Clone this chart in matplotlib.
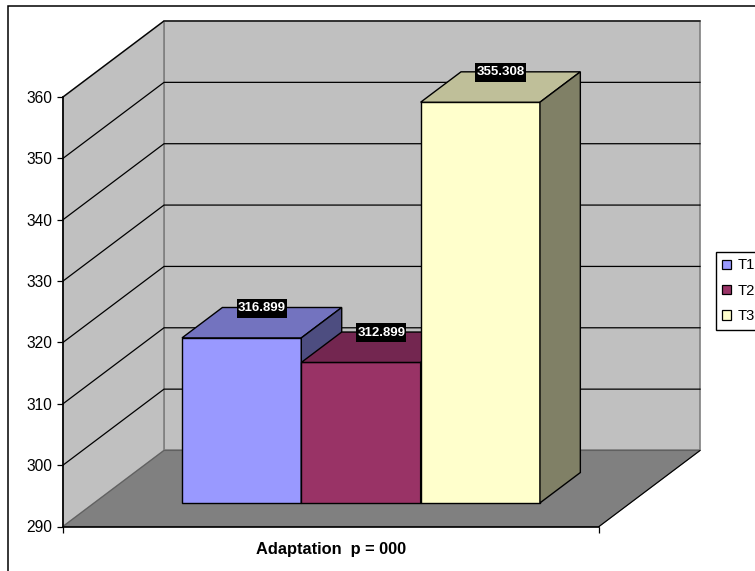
import matplotlib
matplotlib.use('Agg')
import matplotlib.pyplot as plt
from matplotlib.patches import Polygon, Rectangle, Patch
from matplotlib.path import Path

plt.rcParams['font.family'] = ['Liberation Sans', 'DejaVu Sans']

categories = ['T1', 'T2', 'T3']
values = [316.899, 312.899, 355.308]
value_labels = ['316.899', '312.899', '355.308']
yticks = [290, 300, 310, 320, 330, 340, 350, 360]
xlabel = 'Adaptation  p = 000'

front_colors = ['#9999FF', '#993366', '#FFFFCC']
top_colors = ['#7373BF', '#732650', '#BFBF99']
side_colors = ['#4D4D80', '#4D1A33', '#808066']

W, H = 755, 571
ymin, ymax = 290, 360

fig = plt.figure(figsize=(W / 100, H / 100), dpi=100, facecolor='white')
ax = fig.add_axes([63 / W, 1 - 526.5 / H, 536 / W, 429.5 / H])
ax.set_xlim(0, 1)
ax.set_ylim(ymin, ymax)
ax.patch.set_visible(False)

# oblique depth of the box, in x units and value units
depth_x = 101 / 536
depth_y = 76 / (429.5 / (ymax - ymin))


def proj(x, v, d):
    return (x + d * depth_x, v + d * depth_y)


def face(points, color, edge, lw=1.0, z=2):
    ax.add_patch(Polygon([proj(*p) for p in points], closed=True, facecolor=color,
                         edgecolor=edge, linewidth=lw, clip_on=False, zorder=z,
                         joinstyle='miter'))


# label background: tall and narrow, so a plain square pad won't do
def label_box(x0, y0, width, height, mutation_size):
    px = 0.08 * mutation_size
    py = 0.26 * mutation_size
    x0, x1 = x0 - px, x0 + width + px
    y0, y1 = y0 - py, y0 + height + py
    return Path([(x0, y0), (x1, y0), (x1, y1), (x0, y1), (x0, y0)], closed=True)


# walls and floor
face([(0, ymin, 1), (1, ymin, 1), (1, ymax, 1), (0, ymax, 1)], '#C0C0C0', '#808080', 1.2, 1)
face([(0, ymin, 0), (0, ymin, 1), (0, ymax, 1), (0, ymax, 0)], '#C0C0C0', '#808080', 1.2, 1)
face([(0, ymin, 0), (1, ymin, 0), (1, ymin, 1), (0, ymin, 1)], '#808080', '#606060', 0.8, 1)
ax.plot(*zip(proj(1, ymin, 0), proj(1, ymin, 1)), color='black', lw=0.8, clip_on=False, zorder=1.5)

# gridlines run along the side wall then across the back
for v in yticks[1:]:
    pts = [proj(0, v, 0), proj(0, v, 1), proj(1, v, 1)]
    ax.plot(*zip(*pts), color='black', lw=0.9, clip_on=False, zorder=1.5)

# bars
bar_w = 0.2226
bar_x0 = 0.1636
d0, d1 = 0.31, 0.71
for i, v in enumerate(values):
    x0 = bar_x0 + i * bar_w
    x1 = x0 + bar_w
    z = 3 + i
    face([(x0, ymin, d0), (x1, ymin, d0), (x1, v, d0), (x0, v, d0)], front_colors[i], 'black', 1.0, z)
    face([(x0, v, d0), (x1, v, d0), (x1, v, d1), (x0, v, d1)], top_colors[i], 'black', 1.0, z)
    face([(x1, ymin, d0), (x1, ymin, d1), (x1, v, d1), (x1, v, d0)], side_colors[i], 'black', 1.0, z)

# value labels sit above the middle of each bar's top
for i, v in enumerate(values):
    xc = bar_x0 + (i + 0.5) * bar_w
    ax.annotate(value_labels[i], xy=proj(xc, v, (d0 + d1) / 2), xytext=(0, 10.5), textcoords='offset points',
                ha='center', va='center', color='white', fontsize=9.5, fontweight='bold',
                bbox=dict(boxstyle=label_box, facecolor='black', edgecolor='none'),
                annotation_clip=False, zorder=10)

for s in ['top', 'right']:
    ax.spines[s].set_visible(False)
for s in ['left', 'bottom']:
    ax.spines[s].set_linewidth(1.2)
    ax.spines[s].set_zorder(2.5)
ax.set_yticks(yticks)
ax.set_xticks([0, 1], labels=[])
ax.tick_params(axis='both', length=4.5, width=0.9, labelsize=11.2, color='black', pad=3)
ax.set_xlabel(xlabel, fontsize=11.8, fontweight='bold', labelpad=3.5)

# chart border, right and bottom edges fall outside the figure
fig.add_artist(Rectangle((7.5 / W, 1 - 580 / H), 760 / W, 574 / H, transform=fig.transFigure,
                         facecolor='none', edgecolor='black', linewidth=1.1))

handles = [Patch(facecolor=c, edgecolor='black', linewidth=0.9) for c in front_colors]
fig.legend(handles, categories, loc='upper left', bbox_to_anchor=(716 / W, 1 - 252 / H), borderaxespad=0,
           fontsize=10.6, frameon=True, fancybox=False, edgecolor='black', framealpha=1,
           handlelength=0.61, handleheight=0.61, handletextpad=0.41, labelspacing=0.77, borderpad=0.44)

fig.savefig('out.png', dpi=100)
